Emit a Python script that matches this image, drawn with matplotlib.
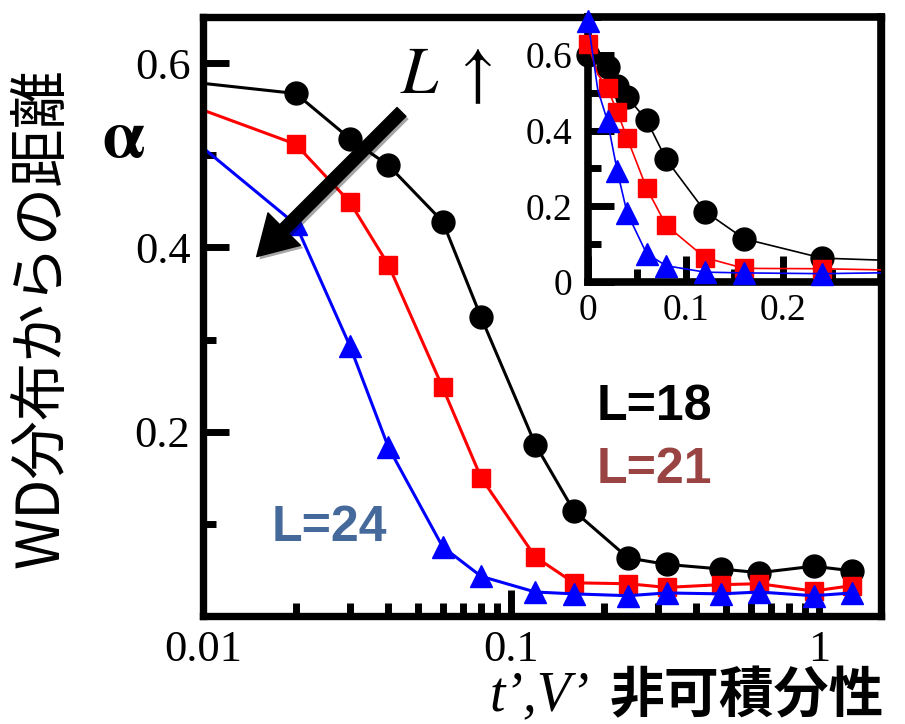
import matplotlib.pyplot as plt
import matplotlib.patheffects as pe
from matplotlib.ticker import FixedLocator, FuncFormatter, LogLocator, MultipleLocator, NullFormatter

plt.rcParams['font.family'] = ['Liberation Serif', 'DejaVu Serif']
plt.rcParams['mathtext.fontset'] = 'stix'

# hopping / interaction strength t', V' (0.01 only anchors the line at the left edge)
t = [0, 0.01, 0.02, 0.03, 0.04, 0.06, 0.08, 0.12, 0.16, 0.24, 0.32, 0.48, 0.64, 0.96, 1.28]
alpha_L18 = [0.600, 0.578, 0.567, 0.518, 0.489, 0.428, 0.324, 0.186, 0.114, 0.063,
             0.056, 0.051, 0.047, 0.054, 0.049]
alpha_L21 = [0.629, 0.549, 0.512, 0.449, 0.381, 0.248, 0.150, 0.064, 0.036, 0.035,
             0.031, 0.034, 0.035, 0.027, 0.033]
alpha_L24 = [0.690, 0.508, 0.425, 0.293, 0.183, 0.075, 0.043, 0.026, 0.024, 0.022,
             0.025, 0.024, 0.026, 0.022, 0.025]

series = [
    (alpha_L18, 'black', 'o', 16.5),
    (alpha_L21, 'red', 's', 13.5),
    (alpha_L24, 'blue', '^', 15.5),
]

fig = plt.figure(figsize=(9.05, 7.24), dpi=100)
ax = fig.add_axes([0.2243, 0.1492, 0.7492, 0.8273])

for vals, col, mk, ms in series:
    ax.plot(t[1:], vals[1:], color=col, lw=2.2, marker=mk, ms=ms, mec=col,
            markevery=slice(1, None))

ax.set_xscale('log')
ax.set_xlim(0.01, 1.59)
ax.set_ylim(0, 0.65)

ax.xaxis.set_major_locator(LogLocator(base=10))
ax.xaxis.set_minor_locator(LogLocator(base=10, subs=range(2, 10)))
ax.xaxis.set_major_formatter(FuncFormatter(lambda v, p: f'{v:g}'))
ax.xaxis.set_minor_formatter(NullFormatter())
ax.yaxis.set_major_locator(FixedLocator([0.2, 0.4, 0.6]))
ax.yaxis.set_minor_locator(FixedLocator([0.1, 0.3, 0.5]))
ax.yaxis.set_major_formatter(FuncFormatter(lambda v, p: f'{v:g}'))

for s in ax.spines.values():
    s.set_linewidth(5.3)
ax.tick_params(which='both', direction='in', width=5, top=False, right=False,
               labelsize=32, colors='black')
ax.tick_params(which='major', length=19)
ax.tick_params(which='minor', length=9.5)
ax.tick_params(axis='x', pad=10)
ax.tick_params(axis='y', pad=9)

# direction of increasing system size
ax.annotate('', xy=(0.01494, 0.390), xytext=(0.0441, 0.547),
            arrowprops=dict(arrowstyle='simple,head_length=2.8,head_width=3.3,tail_width=0.9',
                            mutation_scale=10, color='black', shrinkA=0, shrinkB=0,
                            path_effects=[pe.withSimplePatchShadow(offset=(2, -2), alpha=0.35)]),
            zorder=6)
ax.text(0.0437, 0.5675, r'$L\;\uparrow$', fontsize=48, va='baseline', ha='left')

ax.text(0.190, 0.213, 'L=18', color='black', fontsize=36, fontweight='bold',
        family=['Liberation Sans'], va='baseline')
ax.text(0.190, 0.1447, 'L=21', color='#994442', fontsize=36, fontweight='bold',
        family=['Liberation Sans'], va='baseline')
ax.text(0.01675, 0.081, 'L=24', color='#44699A', fontsize=36, fontweight='bold',
        family=['Liberation Sans'], va='baseline')

# inset on a linear axis, including the t'=0 point
ins = fig.add_axes([0.6497, 0.6105, 0.3238, 0.366])
ins.set_facecolor('white')
shown = [i for i, x in enumerate(t) if x <= 0.3 and x != 0.01]
for k, (vals, col, mk, ms) in enumerate(series):
    ins.plot(t, vals, color=col, lw=1.2, zorder=3 + k)
    ins.plot([t[i] for i in shown], [vals[i] for i in shown], ls='none', marker=mk,
             ms=ms, color=col, mec=col, clip_on=False, zorder=4 + k)
ins.set_xlim(0, 0.3)
ins.set_ylim(0, 0.7)
ins.xaxis.set_major_locator(FixedLocator([0, 0.1, 0.2]))
ins.xaxis.set_minor_locator(FixedLocator([0.05, 0.15, 0.25]))
ins.yaxis.set_major_locator(FixedLocator([0, 0.2, 0.4, 0.6]))
ins.yaxis.set_minor_locator(MultipleLocator(0.1))
ins.xaxis.set_major_formatter(FuncFormatter(lambda v, p: f'{v:g}'))
ins.yaxis.set_major_formatter(FuncFormatter(lambda v, p: f'{v:g}'))
for s in ins.spines.values():
    s.set_linewidth(5.5)
ins.tick_params(which='both', direction='in', width=5, top=False, right=False,
                labelsize=27)
ins.tick_params(which='major', length=19)
ins.tick_params(which='minor', length=9.5)
ins.tick_params(axis='x', pad=8)
ins.tick_params(axis='y', pad=11)

fig.text(124 / 905, 1 - 140 / 724, r'$\mathbf{\alpha}$', fontsize=48,
         ha='center', va='center')
fig.text(42 / 905, 1 - 318 / 724, 'WD分布からの距離', rotation=90, fontsize=42,
         family=['Noto Sans CJK JP', 'DejaVu Sans'], ha='center', va='center')
fig.text(490 / 905, 1 - 710 / 724, 't’,V’', fontsize=40, style='italic',
         ha='left', va='baseline')
fig.text(610 / 905, 1 - 712 / 724, '非可積分性', fontsize=39.5, fontweight='bold',
         family=['Noto Sans CJK JP', 'DejaVu Sans'], ha='left', va='baseline')

fig.savefig('out.png', dpi=100)
